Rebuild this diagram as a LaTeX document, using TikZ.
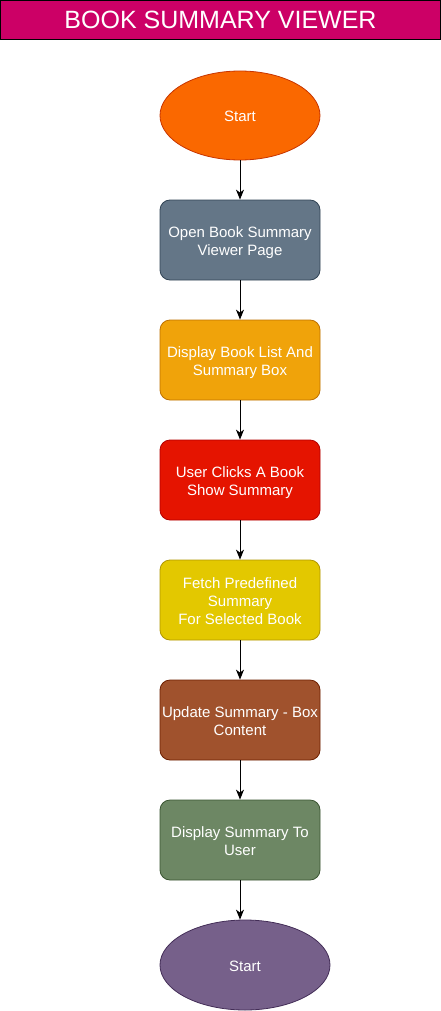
\documentclass[tikz,border=0pt]{standalone}
\usepackage{fontspec}
\setmainfont{Liberation Sans}
\usetikzlibrary{shapes.geometric,arrows.meta}
\definecolor{titlefill}{HTML}{CC0066}
\definecolor{orfill}{HTML}{FA6800}\definecolor{ordraw}{HTML}{C73500}
\definecolor{slfill}{HTML}{647687}\definecolor{sldraw}{HTML}{314354}
\definecolor{amfill}{HTML}{F0A30A}\definecolor{amdraw}{HTML}{BD7000}
\definecolor{rdfill}{HTML}{E51400}\definecolor{rddraw}{HTML}{B20000}
\definecolor{yefill}{HTML}{E3C800}\definecolor{yedraw}{HTML}{B09500}
\definecolor{brfill}{HTML}{A0522D}\definecolor{brdraw}{HTML}{6D1F00}
\definecolor{grfill}{HTML}{6D8764}\definecolor{grdraw}{HTML}{3A5431}
\definecolor{pufill}{HTML}{76608A}\definecolor{pudraw}{HTML}{432D57}
\newcommand{\lowtxt}[1]{\raisebox{-2.5pt}[\height][\depth]{\begin{tabular}{@{}c@{}}#1\end{tabular}}}
\tikzset{
  x=1pt,y=-1pt,
  stepbox/.style={rectangle,rounded corners=10pt,minimum width=160pt,minimum height=80pt,
    inner sep=0pt,text=white,align=center,font=\fontsize{15}{18}\selectfont,line width=0.8pt},
  oval/.style={ellipse,inner sep=0pt,text=white,font=\fontsize{15}{18}\selectfont,line width=0.8pt},
  flow/.style={-{Stealth[length=10pt,width=8pt,inset=3pt]},line width=1pt,black},
}
\begin{document}
\begin{tikzpicture}
\useasboundingbox (0,0) rectangle (441,1011);
\node[rectangle,fill=titlefill,draw=black,line width=1pt,minimum width=440pt,minimum height=39.5pt,
  text=white,font=\fontsize{25}{28}\selectfont,inner sep=0pt] (title) at (220.5,20) {\lowtxt{BOOK SUMMARY VIEWER}};
\node[oval,fill=orfill,draw=ordraw,minimum width=160pt,minimum height=89pt] (start) at (240,115.5) {\lowtxt{Start}};
\node[stepbox,fill=slfill,draw=sldraw] (s1) at (240,240) {\lowtxt{Open Book Summary\\Viewer Page}};
\node[stepbox,fill=amfill,draw=amdraw] (s2) at (240,360) {\lowtxt{Display Book List And\\Summary Box}};
\node[stepbox,fill=rdfill,draw=rddraw] (s3) at (240,480) {\lowtxt{User Clicks A Book\\Show Summary}};
\node[stepbox,fill=yefill,draw=yedraw] (s4) at (240,600) {\lowtxt{Fetch Predefined\\Summary\\For Selected Book}};
\node[stepbox,fill=brfill,draw=brdraw] (s5) at (240,720) {\lowtxt{Update Summary - Box\\Content}};
\node[stepbox,fill=grfill,draw=grdraw] (s6) at (240,840) {\lowtxt{Display Summary To\\User}};
\node[oval,fill=pufill,draw=pudraw,minimum width=170pt,minimum height=90pt] (end) at (245,965) {\lowtxt{Start}};
\draw[flow] (start.south) -- (s1.north);
\draw[flow] (s1.south) -- (s2.north);
\draw[flow] (s2.south) -- (s3.north);
\draw[flow] (s3.south) -- (s4.north);
\draw[flow] (s4.south) -- (s5.north);
\draw[flow] (s5.south) -- (s6.north);
\draw[flow] (s6.south) -- (s6.south |- end.north);
\end{tikzpicture}
\end{document}
